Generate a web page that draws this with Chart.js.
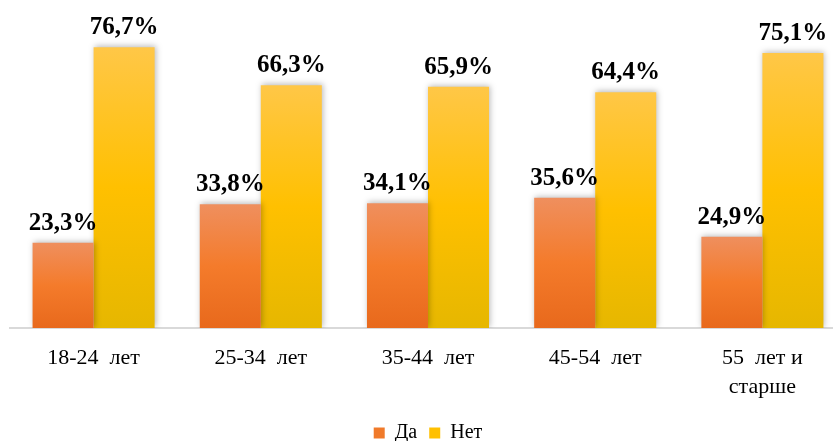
<!DOCTYPE html>
<html>
<head>
<meta charset="utf-8">
<script src="https://cdn.jsdelivr.net/npm/chart.js@4.4.1/dist/chart.umd.min.js"></script>
<style>
  html, body { margin: 0; padding: 0; background: #fff; overflow: hidden; }
  #wrap { position: relative; width: 846px; height: 441px; }
</style>
</head>
<body>
<div id="wrap"><canvas id="c"></canvas></div>
<script>
const categories = ['18-24  лет', '25-34  лет', '35-44  лет', '45-54  лет', ['55  лет и', 'старше']];
const seriesNames = ['Да', 'Нет'];
const daValues = [23.3, 33.8, 34.1, 35.6, 24.9];
const netValues = [76.7, 66.3, 65.9, 64.4, 75.1];

function barGradient(stops, solid) {
  return function (ctx) {
    const chart = ctx.chart;
    if (!chart.chartArea || ctx.type !== 'data') return solid;
    const y = chart.scales.y;
    const top = y.getPixelForValue(ctx.raw);
    const bottom = y.getPixelForValue(0);
    const g = chart.ctx.createLinearGradient(0, top, 0, bottom);
    stops.forEach(s => g.addColorStop(s[0], s[1]));
    return g;
  };
}

const daGrad = barGradient([[0, '#EF8F5E'], [0.5, '#F47B2B'], [1, '#E8691C']], '#F07A2A');
const netGrad = barGradient([[0, '#FFC747'], [0.5, '#FFC000'], [1, '#E6B700']], '#FFC000');

const shadowPlugin = {
  id: 'barShadow',
  beforeDatasetsDraw(chart) {
    const c = chart.ctx;
    c.save();
    c.shadowColor = 'rgba(0,0,0,0.28)';
    c.shadowBlur = 6;
    c.shadowOffsetX = 1;
    c.shadowOffsetY = -1;
  },
  afterDatasetsDraw(chart) {
    chart.ctx.restore();
  }
};

const labelPlugin = {
  id: 'valueLabels',
  afterDatasetsDraw(chart) {
    const c = chart.ctx;
    c.save();
    c.fillStyle = '#000';
    c.font = 'bold 25px "Liberation Serif", "Times New Roman", serif';
    c.textAlign = 'center';
    c.textBaseline = 'alphabetic';
    chart.data.datasets.forEach((ds, i) => {
      const meta = chart.getDatasetMeta(i);
      meta.data.forEach((bar, j) => {
        const txt = ds.data[j].toFixed(1).replace('.', ',') + '%';
        c.fillText(txt, bar.x, bar.y - 13);
      });
    });
    c.restore();
  }
};

new Chart(document.getElementById('c'), {
  type: 'bar',
  data: {
    labels: categories,
    datasets: [
      { label: seriesNames[0], data: daValues, backgroundColor: daGrad, borderWidth: 0,
        categoryPercentage: 0.73, barPercentage: 1.0 },
      { label: seriesNames[1], data: netValues, backgroundColor: netGrad, borderWidth: 0,
        categoryPercentage: 0.73, barPercentage: 1.0 }
    ]
  },
  options: {
    responsive: true,
    maintainAspectRatio: false,
    animation: false,
    layout: { padding: { left: 10, right: 0, top: 0, bottom: -12 } },
    scales: {
      y: { display: false, min: 0, max: 89.6 },
      x: {
        grid: { display: false, drawTicks: false },
        border: { display: true, color: '#D9D9D9', width: 2 },
        afterFit(scale) { scale.height = 83; },
        ticks: {
          color: '#000',
          padding: 16,
          maxRotation: 0,
          autoSkip: false,
          font: { family: '"Liberation Serif", "Times New Roman", serif', size: 22, lineHeight: 1.3 }
        }
      }
    },
    plugins: {
      tooltip: { enabled: false },
      legend: {
        position: 'bottom',
        labels: {
          color: '#000',
          boxWidth: 11,
          boxHeight: 11,
          padding: 12,
          font: { family: '"Liberation Serif", "Times New Roman", serif', size: 20 },
          generateLabels() {
            return [
              { text: seriesNames[0], fillStyle: '#F07A2A', strokeStyle: '#F07A2A', lineWidth: 0, datasetIndex: 0 },
              { text: seriesNames[1], fillStyle: '#FFC000', strokeStyle: '#FFC000', lineWidth: 0, datasetIndex: 1 }
            ];
          }
        }
      }
    }
  },
  plugins: [shadowPlugin, labelPlugin]
});
</script>
</body>
</html>
